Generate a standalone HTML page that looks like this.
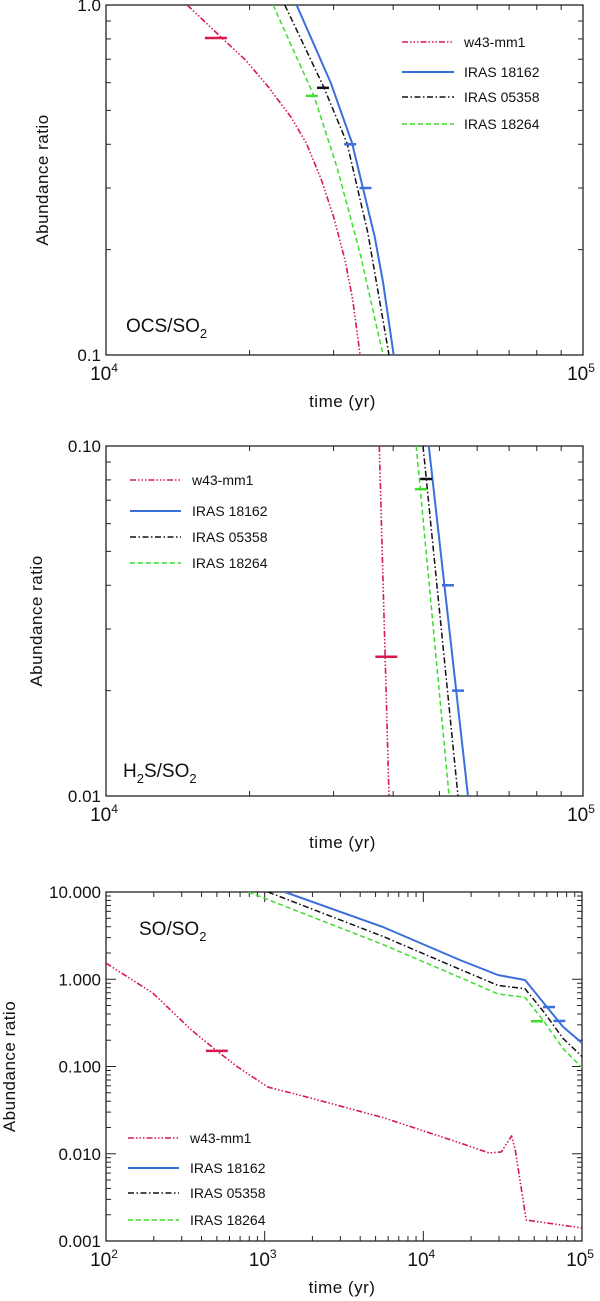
<!DOCTYPE html>
<html><head><meta charset="utf-8"><style>
body{margin:0;background:#fff;width:600px;height:1301px;overflow:hidden}
svg{display:block;font-family:"Liberation Sans","DejaVu Sans",sans-serif}
</style></head><body>
<svg id="fig" width="600" height="1301" viewBox="0 0 600 1301"></svg>
<script>
// ---------- Panel 1: OCS/SO2 ----------
const p1RedT=[1.48e4,1.75e4,1.96e4,2.19e4,2.44e4,2.63e4,2.83e4,3.0e4,3.17e4,3.29e4,3.41e4];
const p1RedR=[1.0,0.805,0.697,0.583,0.479,0.403,0.316,0.248,0.187,0.144,0.1];
const p1BlueT=[2.51e4,2.96e4,3.28e4,3.66e4,3.81e4,4.01e4];
const p1BlueR=[1.0,0.599,0.403,0.217,0.161,0.1];
const p1BlackT=[2.37e4,2.86e4,3.2e4,3.54e4,3.92e4];
const p1BlackR=[1.0,0.583,0.403,0.223,0.1];
const p1GreenT=[2.24e4,2.73e4,3.05e4,3.41e4,3.81e4];
const p1GreenR=[1.0,0.55,0.344,0.195,0.1];
const p1ErrT=[1.7e4,3.25e4,3.5e4,2.85e4,2.7e4];
const p1ErrR=[0.805,0.40,0.30,0.58,0.55];
const p1ErrS=["red","blue","blue","black","green"];
// ---------- Panel 2: H2S/SO2 ----------
const p2RedT=[3.74e4,3.92e4];const p2RedR=[0.1,0.01];
const p2BlueT=[4.75e4,5.74e4];const p2BlueR=[0.1,0.01];
const p2BlackT=[4.62e4,5.47e4];const p2BlackR=[0.1,0.01];
const p2GreenT=[4.47e4,5.24e4];const p2GreenR=[0.1,0.01];
const p2ErrT=[3.87e4,5.21e4,5.47e4,4.69e4,4.57e4];
const p2ErrR=[0.025,0.040,0.020,0.0805,0.0753];
const p2ErrS=["red","blue","blue","black","green"];
// ---------- Panel 3: SO/SO2 ----------
const p3RedT=[100,198,347,500,676,1050,1820,5560,1.7e4,2.6e4,3.1e4,3.6e4,3.8e4,4.45e4,1e5];
const p3RedR=[1.53,0.69,0.26,0.151,0.0986,0.058,0.045,0.026,0.0133,0.0102,0.0105,0.016,0.011,0.00174,0.00141];
const p3BlueT=[1340,5560,1.7e4,2.95e4,4.37e4,5.75e4,7.6e4,1e5];
const p3BlueR=[10,3.97,1.66,1.12,0.98,0.53,0.284,0.186];
const p3BlackT=[1050,5560,1.7e4,2.95e4,4.37e4,5.75e4,7.6e4,1e5];
const p3BlackR=[10,3.1,1.3,0.85,0.78,0.42,0.21,0.13];
const p3GreenT=[790,5560,1.7e4,2.95e4,4.37e4,5.75e4,7.6e4,1e5];
const p3GreenR=[10,2.5,1.05,0.68,0.62,0.33,0.16,0.097];
const p3ErrT=[500,6.2e4,7.2e4,5.2e4];
const p3ErrR=[0.151,0.48,0.333,0.33];
const p3ErrS=["red","blue","blue","green"];
const seriesNames=["w43-mm1","IRAS 18162","IRAS 05358","IRAS 18264"];
const p1YTicks=["1.0","0.1"], p2YTicks=["0.10","0.01"], p3YTicks=["10.000","1.000","0.100","0.010","0.001"];

const NS="http://www.w3.org/2000/svg";
const svg=document.getElementById('fig');
const STY={red:{c:"#d8194c",w:1.6,d:"6 2 1.5 2 1.5 2 1.5 2"},
 blue:{c:"#3b6fd9",w:2,d:""},
 black:{c:"#111",w:1.5,d:"6 2.5 1.5 2.5"},
 green:{c:"#3ddc2f",w:1.5,d:"5 3"}};
function mk(tag,attrs,parent){const e=document.createElementNS(NS,tag);for(const k in attrs)e.setAttribute(k,attrs[k]);(parent||svg).appendChild(e);return e;}

function panel(cfg){
 const g=mk('g',{});
 
 
 const {L,R,T,B,x0,x1,y0,y1}=cfg;
 const xs=t=>L+(Math.log10(t)-x0)/(x1-x0)*(R-L);
 const ys=r=>B-(Math.log10(r)-y0)/(y1-y0)*(B-T);
 const cp=mk('clipPath',{id:'cp'+cfg.id},g);mk('rect',{x:L,y:T,width:R-L,height:B-T},cp);
 const fr=mk('rect',{x:L,y:T,width:R-L,height:B-T,fill:"none",stroke:"#222","stroke-width":1.3},g);
 
 for(let d=x0;d<=x1;d++){for(let m=1;m<10;m++){const v=m*Math.pow(10,d);if(Math.log10(v)>x1+1e-9)break;const x=xs(v);if(x<=L+0.5||x>=R-0.5)continue;const len=m==1?10:5;
   mk('line',{x1:x,x2:x,y1:B,y2:B-len,stroke:"#222","stroke-width":1},g);mk('line',{x1:x,x2:x,y1:T,y2:T+len,stroke:"#222","stroke-width":1},g);}}
 for(let d=y0;d<=y1;d++){for(let m=1;m<10;m++){const v=m*Math.pow(10,d);if(Math.log10(v)>y1+1e-9)break;const y=ys(v);if(y<=T+0.5||y>=B-0.5)continue;const len=m==1?10:5;
   mk('line',{x1:L,x2:L+len,y1:y,y2:y,stroke:"#222","stroke-width":1},g);mk('line',{x1:R,x2:R-len,y1:y,y2:y,stroke:"#222","stroke-width":1},g);}}
 cfg.yt.forEach((s,i)=>{const t=mk('text',{x:L-5,y:ys(Math.pow(10,y1-i))+6,"text-anchor":"end","font-size":17,fill:"#111"},g);t.textContent=s;
   });
 for(let d=x0;d<=x1;d++){const t=mk('text',{x:xs(Math.pow(10,d))-2,y:B+25,"text-anchor":"middle","font-size":19,fill:"#111"},g);
   t.innerHTML='10<tspan dy="-8" font-size="12">'+d+'</tspan>';
   }
 const xt=mk('text',{x:(L+R)/2-2,y:B+52,"text-anchor":"middle","font-size":17,fill:"#111","letter-spacing":"0.5"},g);xt.textContent="time  (yr)";
 
 const yt=mk('text',{x:0,y:0,"text-anchor":"middle","font-size":17,fill:"#111",transform:`translate(${cfg.yax},${(T+B)/2}) rotate(-90)`,"letter-spacing":"0.5"},g);yt.textContent="Abundance  ratio";
 
 const keys=["red","blue","black","green"];
 cfg.series.forEach((s,i)=>{const st=STY[keys[i]];const pts=s[0].map((t,j)=>xs(t).toFixed(1)+','+ys(s[1][j]).toFixed(1)).join(' ');
   const p=mk('polyline',{points:pts,fill:"none",stroke:st.c,"stroke-width":st.w,"stroke-dasharray":st.d,"clip-path":`url(#cp${cfg.id})`,"stroke-linejoin":"round"},g);
   });
 cfg.errT.forEach((t,i)=>{const x=xs(t),y=ys(cfg.errR[i]);const half=keys.indexOf(cfg.errS[i])==0?11:6;
   const e=mk('line',{x1:x-half,x2:x+half,y1:y,y2:y,stroke:STY[cfg.errS[i]].c,"stroke-width":2.5},g);
   });
 const lg=mk('g',{},g);
 seriesNames.forEach((n,i)=>{const st=STY[keys[i]];const y=cfg.leg.ys[i];
   const ee=mk('g',{},lg);
   mk('line',{x1:cfg.leg.x1,x2:cfg.leg.x2,y1:y,y2:y,stroke:st.c,"stroke-width":st.w,"stroke-dasharray":st.d},ee);
   const t=mk('text',{x:cfg.leg.tx,y:y+5,"font-size":14,fill:"#111"},ee);t.textContent=n;});
 const lb=mk('text',{x:cfg.lab[0],y:cfg.lab[1],"font-size":19,fill:"#111"},g);lb.innerHTML=cfg.labHTML;
 
}
panel({id:1,name:'ocs-so2-panel',L:106,R:583,T:5,B:355,x0:4,x1:5,y0:-1,y1:0,yt:p1YTicks,yax:48,
 series:[[p1RedT,p1RedR],[p1BlueT,p1BlueR],[p1BlackT,p1BlackR],[p1GreenT,p1GreenR]],
 errT:p1ErrT,errR:p1ErrR,errS:p1ErrS,leg:{x1:402,x2:454,tx:464,ys:[42,72,97,124]},
 lab:[126,332],labHTML:'OCS/SO<tspan dy="6" font-size="13">2</tspan>'});
panel({id:2,name:'h2s-so2-panel',L:106,R:583,T:446,B:796,x0:4,x1:5,y0:-2,y1:-1,yt:p2YTicks,yax:42,
 series:[[p2RedT,p2RedR],[p2BlueT,p2BlueR],[p2BlackT,p2BlackR],[p2GreenT,p2GreenR]],
 errT:p2ErrT,errR:p2ErrR,errS:p2ErrS,leg:{x1:130,x2:181,tx:192,ys:[480,511,537,563]},
 lab:[123,777],labHTML:'H<tspan dy="6" font-size="13">2</tspan><tspan dy="-6">S/SO</tspan><tspan dy="6" font-size="13">2</tspan>'});
panel({id:3,name:'so-so2-panel',L:106,R:582,T:892,B:1241,x0:2,x1:5,y0:-3,y1:1,yt:p3YTicks,yax:15,
 series:[[p3RedT,p3RedR],[p3BlueT,p3BlueR],[p3BlackT,p3BlackR],[p3GreenT,p3GreenR]],
 errT:p3ErrT,errR:p3ErrR,errS:p3ErrS,leg:{x1:128,x2:179,tx:190,ys:[1138,1168,1193,1220]},
 lab:[139,935],labHTML:'SO/SO<tspan dy="6" font-size="13">2</tspan>'});
</script>
</body></html>
